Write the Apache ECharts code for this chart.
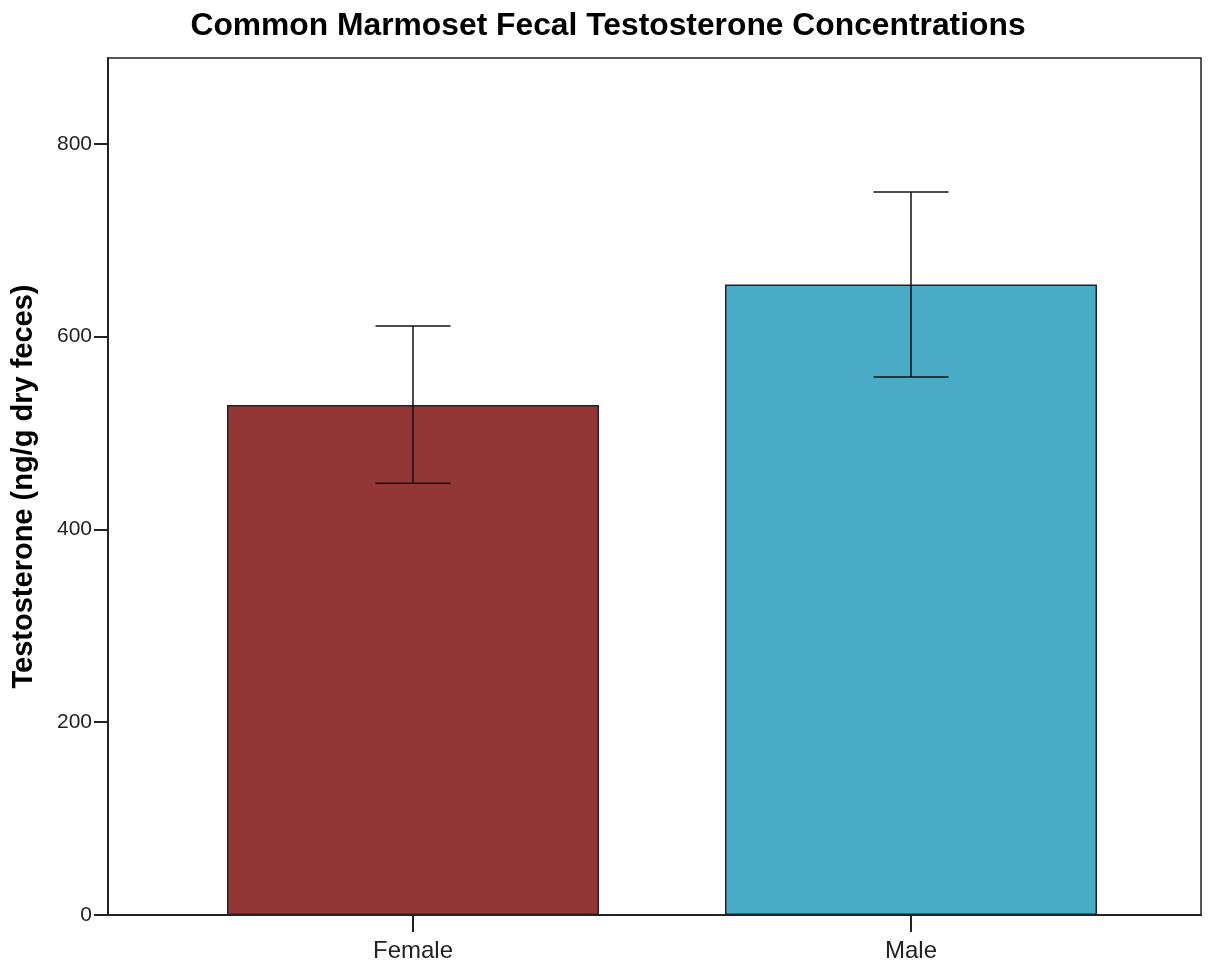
<!DOCTYPE html>
<html>
<head>
<meta charset="utf-8">
<script src="https://cdn.jsdelivr.net/npm/echarts@6/dist/echarts.min.js"></script>
<style>
html,body{margin:0;padding:0;background:#fff;}
#chart{width:1217px;height:969px;}
</style>
</head>
<body>
<div id="chart"></div>
<script>
const categories = ['Female', 'Male'];
const means = [529, 654];
const errLow = [448, 558];
const errHigh = [611, 750];
const barColors = ['#933736', '#4aabc6'];
const yTicks = [0, 200, 400, 600, 800];
const yMax = 889;

const chart = echarts.init(document.getElementById('chart'));
const errData = categories.map((c, i) => [i, errLow[i], errHigh[i]]);
const font = 'Liberation Sans';

chart.setOption({
  animation: false,
  backgroundColor: '#ffffff',
  title: {
    text: 'Common Marmoset Fecal Testosterone Concentrations',
    left: 603, top: 5, textAlign: 'center',
    textStyle: { fontFamily: font, fontSize: 31.8, fontWeight: 'bold', color: '#000' }
  },
  grid: [
    { left: 108, right: 16, top: 58, bottom: 54, show: true, borderColor: '#222', borderWidth: 1.5, backgroundColor: 'transparent' },
    { left: 164, right: 57, top: 58, bottom: 54 }
  ],
  xAxis: [
    {
      gridIndex: 0, type: 'value', min: 0, max: 1,
      axisLine: { show: true, lineStyle: { color: '#222', width: 2 } },
      axisTick: { show: false }, axisLabel: { show: false }, splitLine: { show: false }
    },
    {
      gridIndex: 1, type: 'category', data: categories,
      axisLine: { show: false },
      axisTick: { show: true, alignWithLabel: true, length: 17, lineStyle: { color: '#222', width: 2 } },
      axisLabel: { fontFamily: font, fontSize: 24, color: '#222', margin: 24 }
    }
  ],
  yAxis: [
    {
      gridIndex: 0, type: 'value', min: 0, max: yMax, interval: 200,
      name: 'Testosterone (ng/g dry feces)', nameLocation: 'middle', nameGap: 70,
      nameTextStyle: { fontFamily: font, fontSize: 29, fontWeight: 'bold', color: '#000' },
      axisLine: { show: true, lineStyle: { color: '#222', width: 2 } },
      axisTick: { show: true, length: 14, lineStyle: { color: '#222', width: 2 } },
      axisLabel: { fontFamily: font, fontSize: 21, color: '#222', margin: 16, showMaxLabel: false,
        formatter: v => yTicks.includes(v) ? String(v) : '' },
      splitLine: { show: false }
    },
    {
      gridIndex: 1, type: 'value', min: 0, max: yMax, show: false, splitLine: { show: false }
    }
  ],
  series: [
    {
      type: 'bar', xAxisIndex: 1, yAxisIndex: 1, barWidth: '74.7%',
      data: means.map((v, i) => ({ value: v, itemStyle: { color: barColors[i] } })),
      itemStyle: { borderColor: '#222', borderWidth: 1.5 },
      z: 2
    },
    {
      type: 'custom', xAxisIndex: 1, yAxisIndex: 1, z: 5,
      data: errData,
      renderItem: function (params, api) {
        const x = api.value(0);
        const lo = api.coord([x, api.value(1)]);
        const hi = api.coord([x, api.value(2)]);
        const half = api.size([1, 0])[0] * 0.0753;
        const style = { stroke: '#111', lineWidth: 1.5, fill: null };
        return {
          type: 'group',
          children: [
            { type: 'line', shape: { x1: hi[0], y1: hi[1], x2: lo[0], y2: lo[1] }, style: style },
            { type: 'line', shape: { x1: hi[0] - half, y1: hi[1], x2: hi[0] + half, y2: hi[1] }, style: style },
            { type: 'line', shape: { x1: lo[0] - half, y1: lo[1], x2: lo[0] + half, y2: lo[1] }, style: style }
          ]
        };
      }
    }
  ]
});
</script>
</body>
</html>
